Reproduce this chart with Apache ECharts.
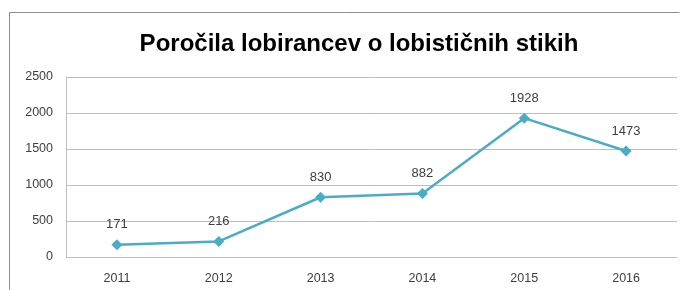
<!DOCTYPE html>
<html><head><meta charset="utf-8">
<script src="https://cdn.jsdelivr.net/npm/echarts@6/dist/echarts.min.js"></script>
<style>html,body{margin:0;padding:0;background:#fff}#c{width:688px;height:290px}</style>
</head><body><div id="c"></div>
<script>
const titleText = "Poročila lobirancev o lobističnih stikih";
const years = ["2011","2012","2013","2014","2015","2016"];
const reports = [171, 216, 830, 882, 1928, 1473];
const yTicks = [0, 500, 1000, 1500, 2000, 2500];

const chart = echarts.init(document.getElementById('c'), null, {renderer:'canvas'});
chart.setOption({
  animation:false,
  backgroundColor:'#fff',
  title:{text:titleText, left:354, top:27, textAlign:'center',
    textStyle:{fontFamily:'Liberation Sans', fontSize:24, fontWeight:'bold', color:'#000'}},
  grid:{left:66, right:11, top:77, bottom:33},
  xAxis:{type:'category', data:years, boundaryGap:true,
    axisLine:{show:true, lineStyle:{color:'#bfbfbf', width:1}},
    axisTick:{show:false},
    axisLabel:{color:'#404040', fontSize:12.5, margin:15, fontFamily:'Liberation Sans'},
    splitLine:{show:false}},
  yAxis:{type:'value', min:yTicks[0], max:yTicks[yTicks.length-1], interval:500,
    axisLine:{show:true, lineStyle:{color:'#bfbfbf', width:1}},
    axisTick:{show:false},
    axisLabel:{color:'#404040', fontSize:12.5, margin:13, fontFamily:'Liberation Sans', formatter:function(v){return String(v);}},
    splitLine:{show:true, lineStyle:{color:'#bfbfbf', width:1}}},
  series:[{type:'line', data:reports, symbol:'diamond', symbolSize:11,
    lineStyle:{color:'#4BACC6', width:2.5},
    itemStyle:{color:'#4BACC6'},
    label:{show:true, position:'top', distance:8, color:'#404040', fontSize:13, fontFamily:'Liberation Sans'}}],
  graphic:[{type:'polyline', shape:{points:[[9.5,300],[9.5,12.5],[679.5,12.5]]}, style:{stroke:'#8c8c8c', lineWidth:1, fill:null}}]
});
</script></body></html>
